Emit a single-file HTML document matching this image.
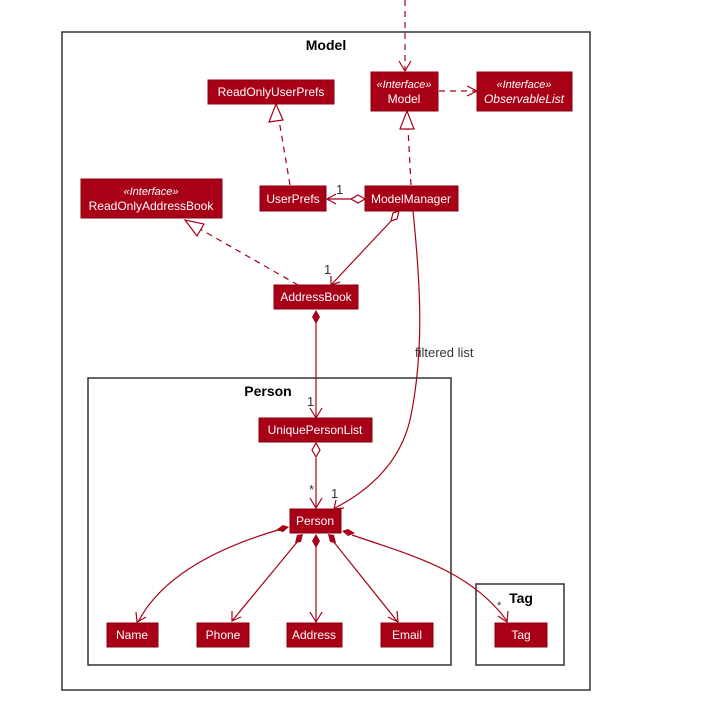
<!DOCTYPE html>
<html><head><style>
body{margin:0;background:#fff;}
svg{display:block;font-family:"Liberation Sans",sans-serif;}
.n{fill:#A80016;stroke:#8b0011;stroke-width:1}
.t{fill:#fff;font-size:12px;text-anchor:middle}
.i{fill:#fff;font-size:11px;font-style:italic;text-anchor:middle}
.l{fill:none;stroke:#A80016;stroke-width:1.2}
.d{fill:none;stroke:#A80016;stroke-width:1.2;stroke-dasharray:6,5}
.f{fill:none;stroke:#333;stroke-width:1.5}
.h{font-size:14px;font-weight:bold;text-anchor:middle;fill:#000}
.m{font-size:13px;fill:#333}
</style></head><body>
<svg width="721" height="708" viewBox="0 0 721 708">
<rect class="f" x="62" y="32" width="528" height="658"/>
<text class="h" x="326" y="50">Model</text>
<rect class="f" x="88" y="378" width="363" height="287"/>
<text class="h" x="268" y="396">Person</text>
<rect class="f" x="476" y="584" width="88" height="81"/>
<text class="h" x="521" y="603">Tag</text>

<!-- edges -->
<path class="d" d="M405 0 V71"/>
<path class="l" d="M399 61 L405 71 L411 61"/>
<path class="d" d="M439 91 H476"/>
<path class="l" d="M467 86 L477 91 L467 96"/>
<path class="d" d="M290 185 L279 120"/>
<path class="l" fill="#fff" d="M276 104 L269 122 L283 120 Z" style="fill:#fff"/>
<path class="d" d="M411 185 L408 128"/>
<path class="l" style="fill:#fff" d="M407 111 L400 129 L414 129 Z"/>
<path class="l" d="M327 199 H352"/>
<path class="l" d="M336 194 L327 199 L336 204"/>
<path class="l" style="fill:#fff" d="M365 199 L358 195 L351 199 L358 203 Z"/>
<text class="m" x="336" y="194">1</text>
<path class="l" d="M392 220 L331 285"/>
<path class="l" style="fill:#fff" d="M399 211 L393 213 L391 221 L397 219 Z"/>
<path class="l" d="M331 276 L331 285 L340 282"/>
<text class="m" x="324" y="274">1</text>
<path class="d" d="M298 285 L200 229"/>
<path class="l" style="fill:#fff" d="M185 220 L197 236 L204 224 Z"/>
<path class="l" d="M316 323 V418"/>
<path style="fill:#A80016" d="M316 310 L312 317 L316 324 L320 317 Z"/>
<path class="l" d="M310 408 L316 418 L322 408"/>
<text class="m" x="307" y="406">1</text>
<path class="l" d="M413 211 C420 280 425 350 410 420 C398 470 360 495 335 508"/>
<path class="l" d="M336 500 L334 509 L344 508"/>
<text class="m" x="415" y="357">filtered list</text>
<text class="m" x="331" y="498">1</text>
<path class="l" d="M316 458 V508"/>
<path class="l" style="fill:#fff" d="M316 443 L312 450 L316 457 L320 450 Z"/>
<path class="l" d="M310 498 L316 508 L322 498"/>
<text class="m" x="309" y="494">*</text>

<!-- person parts -->
<g>
<path class="l" d="M278 530 C210 550 160 580 138 622"/>
<path style="fill:#A80016" d="M289 527 L283 525 L276 530 L283 532 Z"/>
<path class="l" d="M136 612 L137 622 L146 617"/>
<path class="l" d="M298 541 L232 621"/>
<path style="fill:#A80016" d="M303 534 L297 535 L295 543 L301 542 Z"/>
<path class="l" d="M232 611 L232 621 L241 617"/>
<path class="l" d="M316 547 V622"/>
<path style="fill:#A80016" d="M316 534 L312 541 L316 548 L320 541 Z"/>
<path class="l" d="M310 612 L316 622 L322 612"/>
<path class="l" d="M333 541 L397 621"/>
<path style="fill:#A80016" d="M328 534 L334 535 L336 543 L330 542 Z"/>
<path class="l" d="M388 617 L398 622 L397 611"/>
<path class="l" d="M352 535 C410 555 470 570 507 621"/>
<path style="fill:#A80016" d="M342 531 L348 529 L355 533 L348 536 Z"/>
<path class="l" d="M498 616 L507 622 L508 611"/>
<text class="m" x="497" y="609" style="font-size:11px">*</text>
</g>

<!-- nodes -->
<rect class="n" x="208" y="80" width="126" height="24"/><text class="t" x="271" y="96">ReadOnlyUserPrefs</text>
<rect class="n" x="371" y="72" width="67" height="39"/><text class="i" x="404" y="88">«Interface»</text><text class="t" x="404" y="103">Model</text>
<rect class="n" x="477" y="72" width="95" height="39"/><text class="i" x="524" y="88">«Interface»</text><text class="i" x="524" y="103" style="font-size:12px">ObservableList</text>
<rect class="n" x="81" y="179" width="141" height="39"/><text class="i" x="151" y="195">«Interface»</text><text class="t" x="151" y="210">ReadOnlyAddressBook</text>
<rect class="n" x="260" y="186" width="66" height="25"/><text class="t" x="293" y="203">UserPrefs</text>
<rect class="n" x="365" y="186" width="93" height="25"/><text class="t" x="411" y="203">ModelManager</text>
<rect class="n" x="274" y="285" width="84" height="24"/><text class="t" x="316" y="301">AddressBook</text>
<rect class="n" x="259" y="418" width="113" height="24"/><text class="t" x="315" y="434">UniquePersonList</text>
<rect class="n" x="290" y="509" width="51" height="24"/><text class="t" x="315" y="525">Person</text>
<rect class="n" x="107" y="623" width="51" height="24"/><text class="t" x="132" y="639">Name</text>
<rect class="n" x="197" y="623" width="52" height="24"/><text class="t" x="223" y="639">Phone</text>
<rect class="n" x="287" y="623" width="55" height="24"/><text class="t" x="314" y="639">Address</text>
<rect class="n" x="381" y="623" width="52" height="24"/><text class="t" x="407" y="639">Email</text>
<rect class="n" x="495" y="623" width="52" height="24"/><text class="t" x="521" y="639">Tag</text>
</svg>
</body></html>
